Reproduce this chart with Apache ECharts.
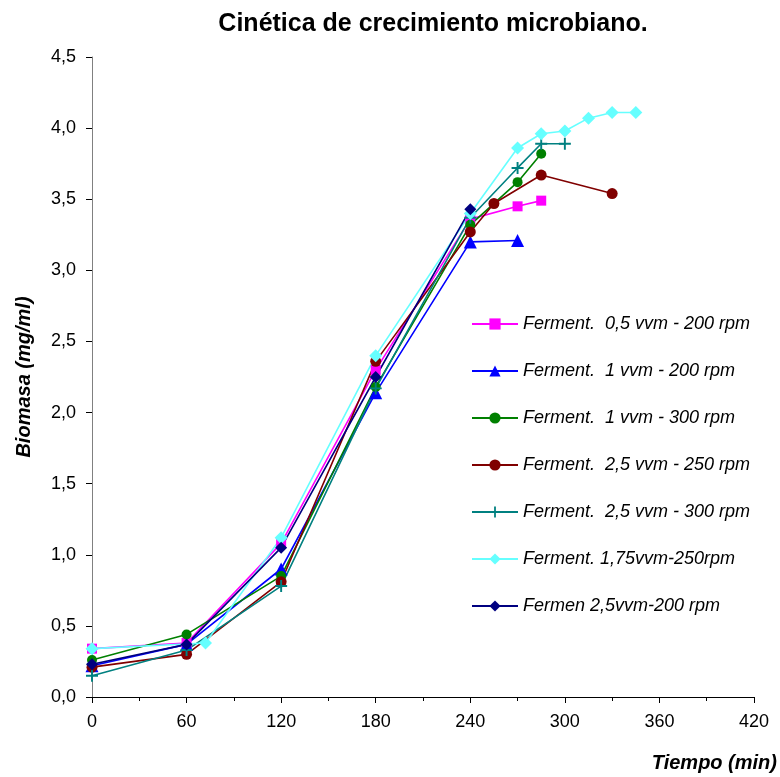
<!DOCTYPE html>
<html>
<head>
<meta charset="utf-8">
<script src="https://cdn.jsdelivr.net/npm/echarts@6/dist/echarts.min.js"></script>
<style>html,body{margin:0;padding:0;background:#fff}#c{width:780px;height:777px}</style>
</head>
<body>
<div id="c"></div>
<script>
// ---- data ----
var xTicks = [0, 60, 120, 180, 240, 300, 360, 420];
var yTicks = [0, 0.5, 1, 1.5, 2, 2.5, 3, 3.5, 4, 4.5];

var names = [
  'Ferment.  0,5 vvm - 200 rpm',
  'Ferment.  1 vvm - 200 rpm',
  'Ferment.  1 vvm - 300 rpm',
  'Ferment.  2,5 vvm - 250 rpm',
  'Ferment.  2,5 vvm - 300 rpm',
  'Ferment. 1,75vvm-250rpm',
  'Fermen 2,5vvm-200 rpm'
];

var t05_200 = [0, 60, 120, 180, 240, 270, 285];
var v05_200 = [0.34, 0.38, 1.08, 2.30, 3.36, 3.45, 3.49];

var t1_200 = [0, 60, 120, 180, 240, 270];
var v1_200 = [0.22, 0.37, 0.90, 2.14, 3.20, 3.21];

var t1_300 = [0, 60, 120, 180, 240, 270, 285];
var v1_300 = [0.26, 0.44, 0.85, 2.18, 3.32, 3.62, 3.82];

var t25_250 = [0, 60, 120, 180, 240, 255, 285, 330];
var v25_250 = [0.21, 0.30, 0.81, 2.36, 3.27, 3.47, 3.67, 3.54];

var t25_300 = [0, 60, 120, 180, 240, 270, 285, 300];
var v25_300 = [0.15, 0.33, 0.78, 2.17, 3.37, 3.72, 3.89, 3.89];

var t175_250 = [0, 72, 120, 180, 240, 270, 285, 300, 315, 330, 345];
var v175_250 = [0.34, 0.38, 1.12, 2.40, 3.40, 3.86, 3.96, 3.98, 4.07, 4.11, 4.11];

var t25_200 = [0, 60, 120, 180, 240];
var v25_200 = [0.23, 0.37, 1.05, 2.25, 3.43];

// ---- build ----
function pairs(t, v) { return t.map(function (x, i) { return [x, v[i]]; }); }
var plusPath = 'path://M4.2,0 L5.8,0 L5.8,4.2 L10,4.2 L10,5.8 L5.8,5.8 L5.8,10 L4.2,10 L4.2,5.8 L0,5.8 L0,4.2 L4.2,4.2 Z';

var specs = [
  {t: t05_200, v: v05_200, color: '#FF00FF', symbol: 'rect', size: 10},
  {t: t1_200, v: v1_200, color: '#0000FF', symbol: 'triangle', size: 13},
  {t: t1_300, v: v1_300, color: '#008000', symbol: 'circle', size: 10},
  {t: t25_250, v: v25_250, color: '#800000', symbol: 'circle', size: 11},
  {t: t25_300, v: v25_300, color: '#008080', symbol: plusPath, size: 12},
  {t: t175_250, v: v175_250, color: '#66FFFF', symbol: 'diamond', size: 13},
  {t: t25_200, v: v25_200, color: '#000080', symbol: 'diamond', size: 12}
];

var series = specs.map(function (s, i) {
  return {
    name: names[i],
    type: 'line',
    data: pairs(s.t, s.v),
    symbol: s.symbol,
    symbolSize: s.size,
    showAllSymbol: true,
    lineStyle: {color: s.color, width: 1.6},
    itemStyle: {color: s.color, opacity: 1},
    emphasis: {disabled: true},
    animation: false
  };
});

var font = 'Liberation Sans, Arial, sans-serif';
var chart = echarts.init(document.getElementById('c'), null, {renderer: 'canvas'});
chart.setOption({
  animation: false,
  backgroundColor: '#fff',
  title: {
    text: 'Cinética de crecimiento microbiano.',
    left: 428, top: 7, textAlign: 'center',
    textStyle: {fontFamily: font, fontWeight: 'bold', fontSize: 25, color: '#000'}
  },
  grid: {left: 92, right: 25, top: 57, bottom: 80, containLabel: false},
  legend: {
    orient: 'vertical', left: 466, top: 310,
    itemWidth: 46, itemHeight: 14, itemGap: 29,
    textStyle: {fontFamily: font, fontStyle: 'italic', fontSize: 18, color: '#000'},
    data: names
  },
  xAxis: {
    type: 'value', min: 0, max: 420, interval: 60,
    name: 'Tiempo (min)', nameLocation: 'end', nameGap: 23,
    nameTextStyle: {fontFamily: font, fontWeight: 'bold', fontStyle: 'italic', fontSize: 20, color: '#000', align: 'right', verticalAlign: 'top', padding: [56, 0, 0, 0]},
    axisLine: {show: true, onZero: false, lineStyle: {color: '#000', width: 1}},
    axisTick: {show: true, length: 6, lineStyle: {color: '#000'}},
    minorTick: {show: true, splitNumber: 2, length: 4, lineStyle: {color: '#000'}},
    axisLabel: {fontFamily: font, fontSize: 18, color: '#000', margin: 16},
    splitLine: {show: false}
  },
  yAxis: {
    type: 'value', min: 0, max: 4.5, interval: 0.5,
    name: 'Biomasa (mg/ml)', nameLocation: 'middle', nameGap: 58, nameRotate: 90,
    nameTextStyle: {fontFamily: font, fontWeight: 'bold', fontStyle: 'italic', fontSize: 20, color: '#000'},
    axisLine: {show: true, lineStyle: {color: '#808080', width: 1}},
    axisTick: {show: true, length: 6, lineStyle: {color: '#000'}},
    axisLabel: {fontFamily: font, fontSize: 18, color: '#000', margin: 16,
      formatter: function (v) { return v.toFixed(1).replace('.', ','); }},
    splitLine: {show: false}
  },
  series: series
});
</script>
</body>
</html>
